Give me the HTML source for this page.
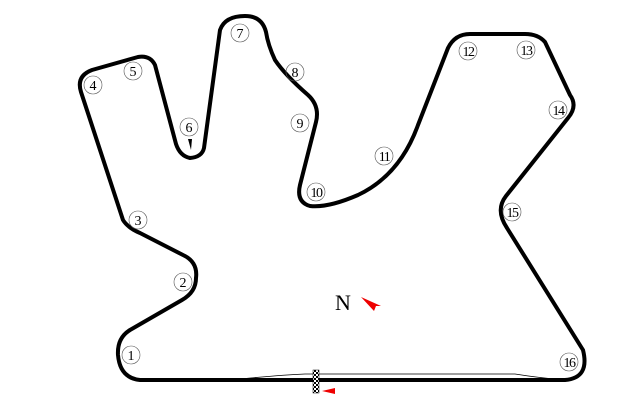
<!DOCTYPE html>
<html><head><meta charset="utf-8"><style>html,body{margin:0;padding:0;background:#fff;width:635px;height:400px;overflow:hidden}</style></head>
<body>
<svg width="635" height="400" viewBox="0 0 635 400" xmlns="http://www.w3.org/2000/svg">
<defs><pattern id="chk" width="4" height="4" patternUnits="userSpaceOnUse"><rect width="4" height="4" fill="#fff"/><rect width="2" height="2" fill="#000"/><rect x="2" y="2" width="2" height="2" fill="#000"/></pattern></defs>
<path d="M230,380 Q280,375 305,374 L515,374 Q540,378 565,380" fill="none" stroke="#000" stroke-width="0.8"/>
<path d="M140,380 L565,380 Q590,378 583,350 L507,228 Q495,210 506,196 L568,118 Q578,106 570,95 L545,42 Q538,34 525,34 L470,34 Q455,34 448,48 L418,125 Q400,175 358,195 Q328,208 310,206 Q296,202 300,185 L316,122 Q320,106 308,95 Q285,75 275,60 Q268,45 266,32 Q262,16 245,16 Q225,16 220,30 L204,148 Q202,157 190,158 Q180,156 176,144 L155,65 Q150,55 138,57 L92,70 Q76,76 81,92 L123,220 Q128,228 140,233 L183,255 Q198,262 196,278 Q196,292 182,300 L130,330 Q117,338 118,355 Q120,378 140,380 Z" fill="none" stroke="#000" stroke-width="4" stroke-linejoin="round"/>
<rect x="313" y="370" width="6" height="23" fill="url(#chk)" stroke="#000" stroke-width="0.5"/>
<polygon points="322,391 335,388 335,394" fill="#e00"/>
<polygon points="188,139 192,139 191,150" fill="#000"/>
<text x="343" y="310" font-family="Liberation Serif, serif" font-size="22" text-anchor="middle">N</text>
<polygon points="361,297 381,306 376,306 374,311" fill="#e00"/>
<g font-family="Liberation Serif, serif" font-size="14" text-anchor="middle" fill="#000">
<g fill="none" stroke="#555" stroke-width="0.6">
<circle cx="131" cy="355" r="9"/><circle cx="183" cy="282" r="9"/><circle cx="138" cy="220" r="9"/><circle cx="93" cy="85" r="9"/><circle cx="133" cy="71" r="9"/><circle cx="189" cy="127" r="9"/><circle cx="240" cy="33" r="9"/><circle cx="295" cy="72" r="9"/><circle cx="300" cy="123" r="9"/><circle cx="316" cy="192" r="9"/><circle cx="384" cy="156" r="9"/><circle cx="468" cy="51" r="9"/><circle cx="526" cy="50" r="9"/><circle cx="558" cy="110" r="9"/><circle cx="512" cy="212" r="9"/><circle cx="569" cy="362" r="9"/>
</g>
<text x="131" y="360">1</text><text x="183" y="287">2</text><text x="138" y="225">3</text><text x="93" y="90">4</text><text x="133" y="76">5</text><text x="189" y="132">6</text><text x="240" y="38">7</text><text x="295" y="77">8</text><text x="300" y="128">9</text>
<g font-size="14" letter-spacing="-1.5"><text x="316" y="197">10</text><text x="384" y="161">11</text><text x="468" y="56">12</text><text x="526" y="55">13</text><text x="558" y="115">14</text><text x="512" y="217">15</text><text x="569" y="367">16</text></g>
</g>
</svg>
</body></html>
